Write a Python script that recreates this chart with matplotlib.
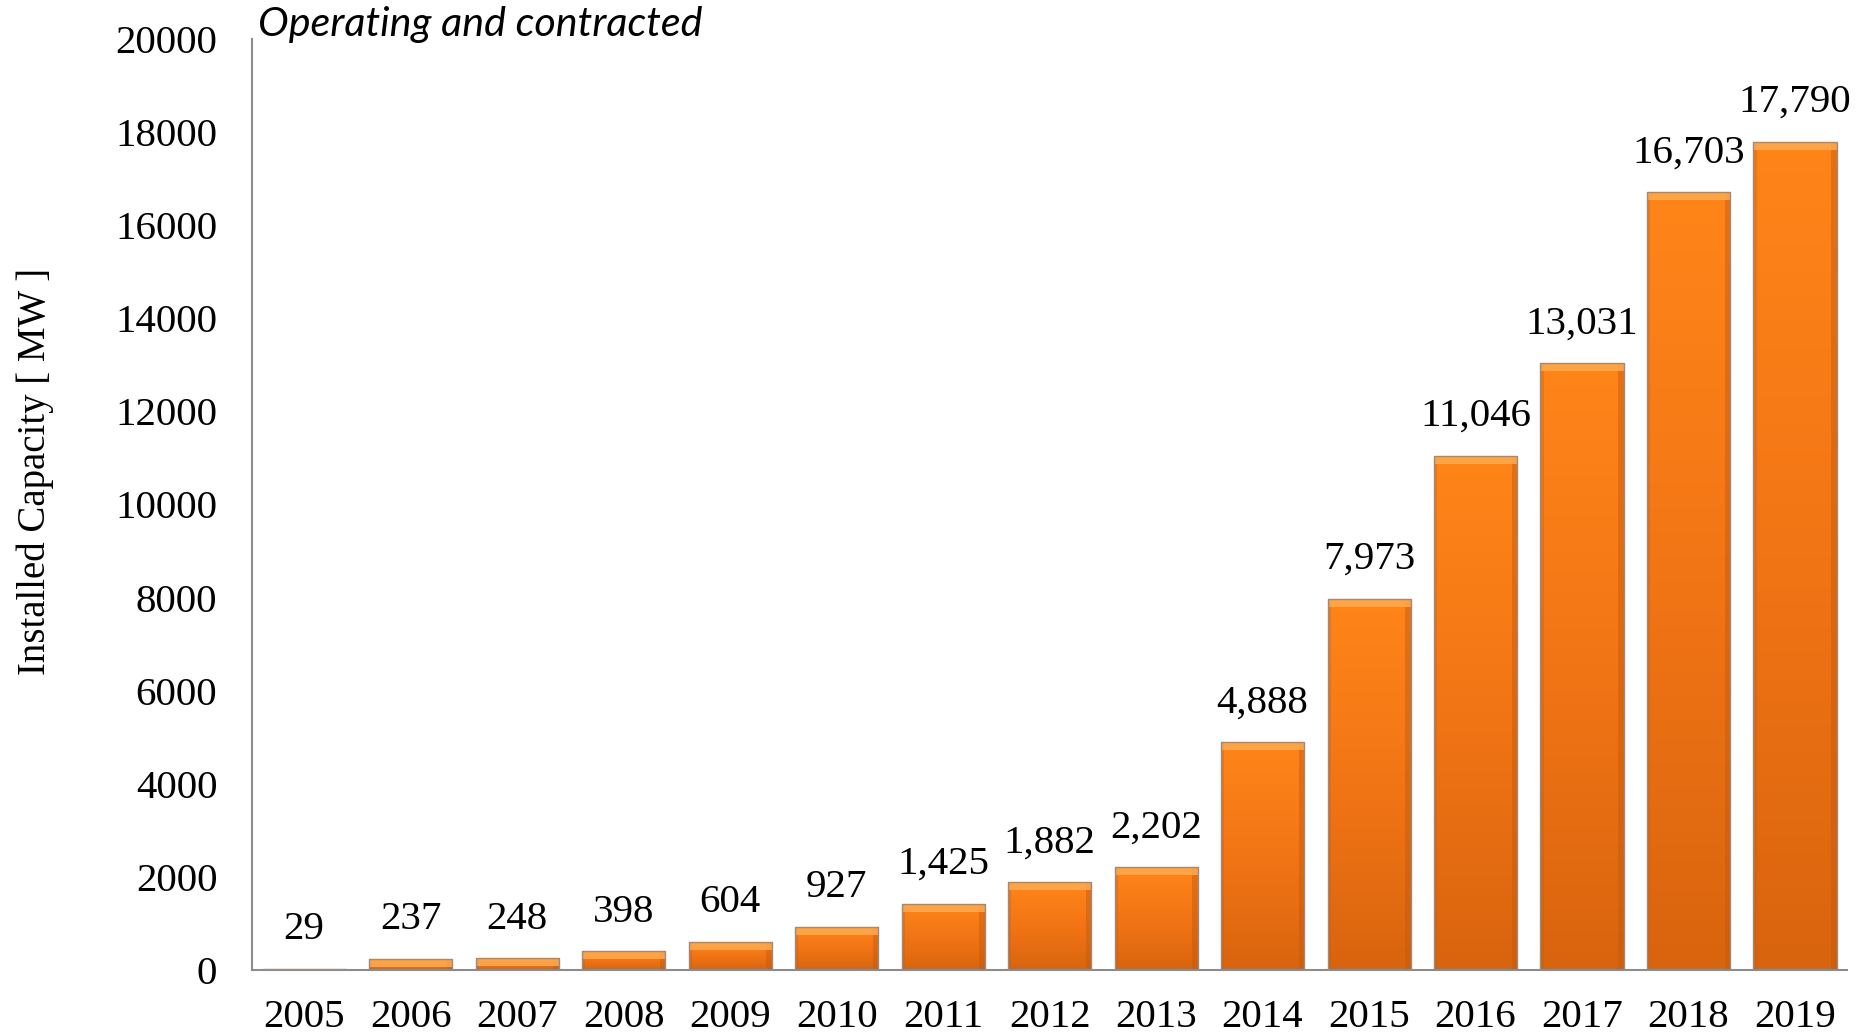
import numpy as np
import matplotlib.pyplot as plt
from matplotlib.colors import LinearSegmentedColormap

# --- Data ---
years = ["2005", "2006", "2007", "2008", "2009", "2010", "2011", "2012",
         "2013", "2014", "2015", "2016", "2017", "2018", "2019"]
capacity_mw = [29, 237, 248, 398, 604, 927, 1425, 1882,
               2202, 4888, 7973, 11046, 13031, 16703, 17790]
yticks = list(range(0, 20001, 2000))

SERIF = "Liberation Serif"
FS = 29.5
W = 0.78
BEVEL = 170  # top highlight height in data units

fig = plt.figure(figsize=(18.57, 10.36), dpi=100)
ax = fig.add_axes([0.1357, 0.0637, 0.859, 0.8987])

x = np.arange(len(years))
bars = ax.bar(x, capacity_mw, width=W, facecolor="none",
              edgecolor="#9a8a80", lw=1.0, zorder=3)

# vertical orange gradient inside every bar
grad = LinearSegmentedColormap.from_list("bar", ["#d9640e", "#f27515", "#ff8519"])
g = np.linspace(0, 1, 256).reshape(-1, 1)
for b in bars:
    x0, w, h = b.get_x(), b.get_width(), b.get_height()
    im = ax.imshow(g, cmap=grad, origin="lower", aspect="auto",
                   extent=(x0, x0 + w, 0, h), zorder=2)
    im.set_clip_path(b)

# bevel: light strip on top, darker strips at the sides
tops = [min(v, BEVEL) for v in capacity_mw]
ax.bar(x, tops, bottom=np.array(capacity_mw) - np.array(tops), width=W,
       color="#fbab52", lw=0, zorder=2.5, alpha=0.85)
ax.bar(x + W / 2 - 0.025, capacity_mw, width=0.05, color="#c4580c",
       lw=0, zorder=2.4, alpha=0.45)
ax.bar(x - W / 2 + 0.015, capacity_mw, width=0.03, color="#c4580c",
       lw=0, zorder=2.4, alpha=0.3)

for xi, v in zip(x, capacity_mw):
    ax.annotate(f"{v:,}", (xi, v), xytext=(0, 15), textcoords="offset points",
                ha="center", va="bottom", fontsize=FS, family=SERIF)

ax.set_xlim(-0.49, 14.49)
ax.set_ylim(0, 20000)
ax.set_yticks(yticks)
ax.set_yticklabels([str(t) for t in yticks], fontsize=FS, family=SERIF)
ax.set_xticks(x)
ax.set_xticklabels(years, fontsize=FS, family=SERIF)
ax.tick_params(length=0)
ax.tick_params(axis="x", pad=21)
ax.tick_params(axis="y", pad=25)

for s in ["top", "right"]:
    ax.spines[s].set_visible(False)
for s in ["left", "bottom"]:
    ax.spines[s].set_color("#8c8c8c")
    ax.spines[s].set_linewidth(1.5)

fig.text(0.019, 0.545, "Installed Capacity [ MW ]", rotation=90,
         ha="center", va="center", fontsize=28, family=SERIF)
fig.text(0.139, 0.976, "Operating and contracted", ha="left", va="center",
         fontsize=29.7, family="Lato", style="italic")

plt.savefig("out.png", dpi=100)
